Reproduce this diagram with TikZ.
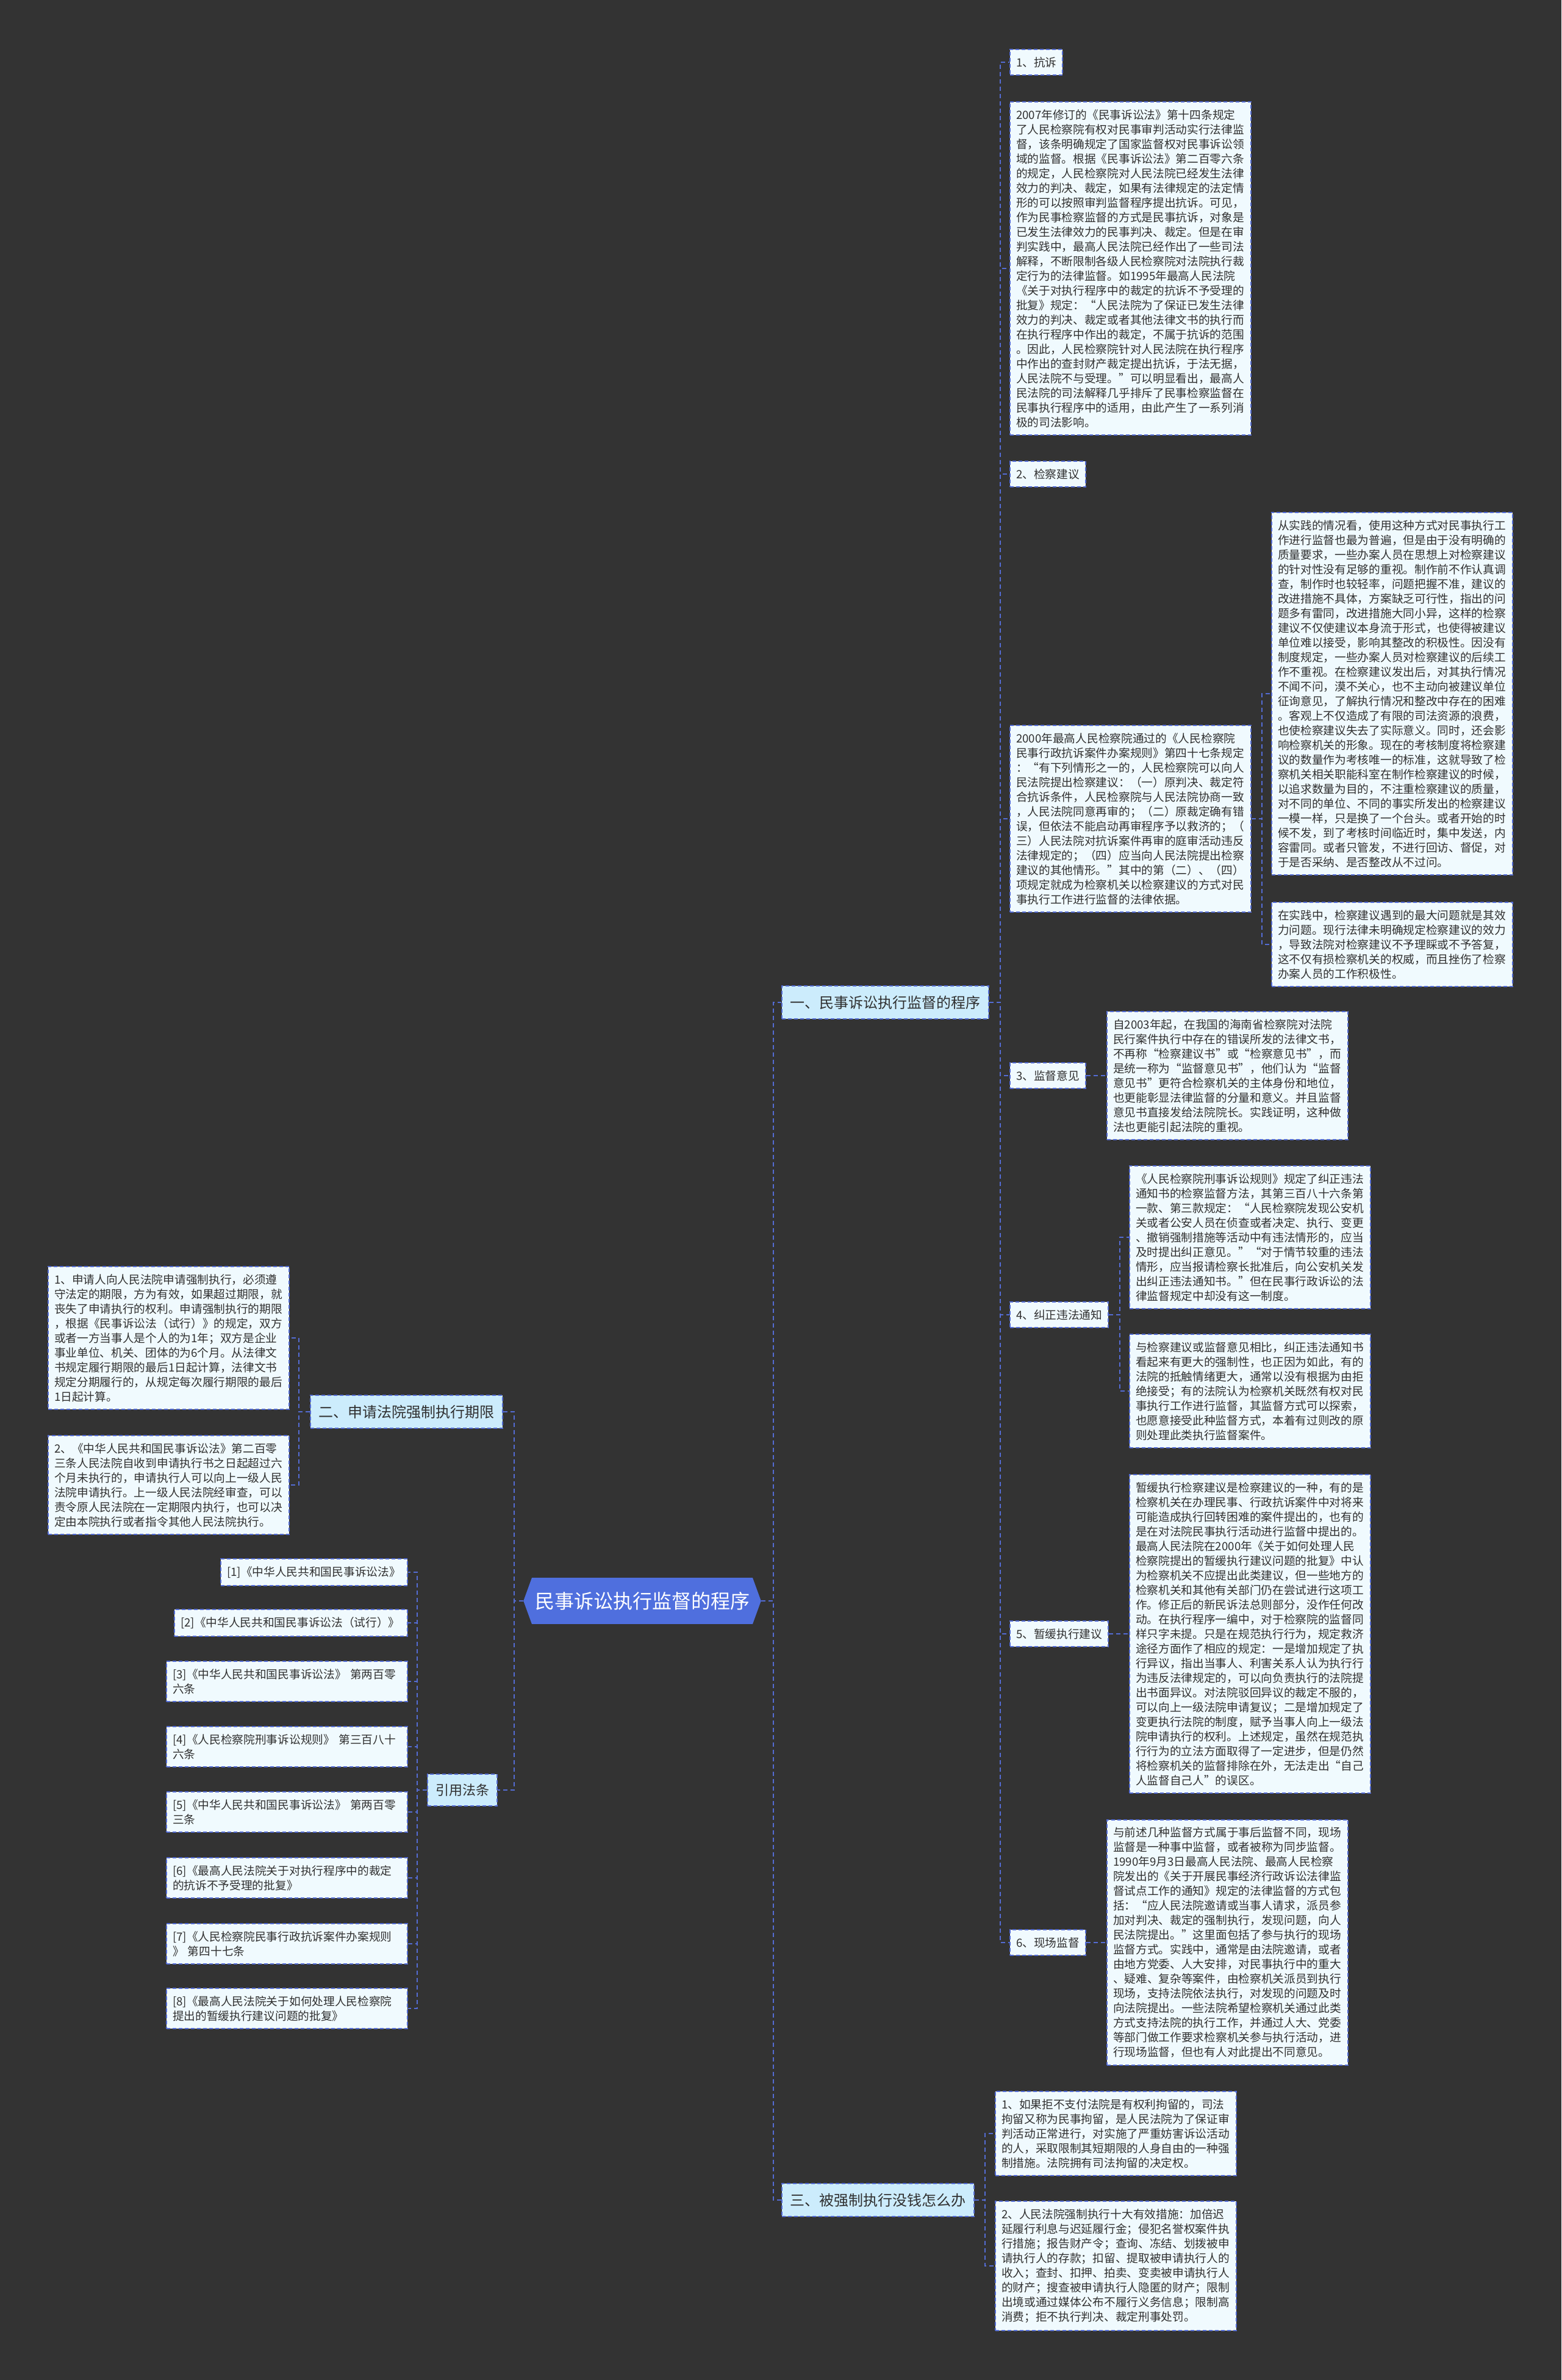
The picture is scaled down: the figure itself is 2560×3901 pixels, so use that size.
\documentclass[tikz,border=0pt]{standalone}
\usepackage{fontspec}
\setmainfont{Noto Sans CJK SC}
\usepackage{xcolor}
\usetikzlibrary{shapes.symbols}
\definecolor{bgdark}{RGB}{51,51,51}
\definecolor{rootblue}{RGB}{79,111,222}
\definecolor{linkblue}{RGB}{84,108,212}
\definecolor{topicfill}{RGB}{204,236,252}
\definecolor{leaffill}{RGB}{240,250,254}
\definecolor{inkgray}{RGB}{48,48,48}

\begin{document}
\begin{tikzpicture}[x=1pt, y=-1pt,
  link/.style={draw=linkblue, line width=2pt, dash pattern=on 7pt off 5pt},
  leaf/.style={draw=linkblue, line width=2pt, dash pattern=on 6pt off 4pt, fill=leaffill,
    text=inkgray, font=\fontsize{18.7}{24}\selectfont, inner xsep=10pt, inner ysep=12.5pt, align=left},
  block/.style={leaf, text width=375pt},
  topic/.style={leaf, fill=topicfill, font=\fontsize{24}{28}\selectfont, inner xsep=13.5pt, inner ysep=16pt},
  rootnode/.style={signal, signal from=nowhere, signal to=east and west, signal pointer angle=140,
    fill=rootblue, text=white, font=\fontsize{32}{36}\selectfont, inner xsep=5pt, inner ysep=23pt}]
  % Background
  \fill[bgdark] (0,0) rectangle (2560,3901);
  \useasboundingbox (0,0) rectangle (2560,3901);
  % Central topic
  \node[rootnode] (root) at (1053,2624) {民事诉讼执行监督的程序};
  % Main branches
  \node[topic, anchor=west] (proc) at (1281,1643) {一、民事诉讼执行监督的程序};
  \node[topic, anchor=west] (nomoney) at (1281,3606) {三、被强制执行没钱怎么办};
  \node[topic, anchor=east] (limit) at (825,2314) {二、申请法院强制执行期限};
  \node[topic, anchor=east, font=\fontsize{22}{26}\selectfont, inner xsep=13pt] (refs) at (816,2934) {引用法条};
  % Branch one
  \node[leaf, anchor=west] (protest) at (1655,102) {1、抗诉};
  \node[block, anchor=west] (protestText) at (1655,440) {2007年修订的《民事诉讼法》第十四条规定\\
    了人民检察院有权对民事审判活动实行法律监\\
    督，该条明确规定了国家监督权对民事诉讼领\\
    域的监督。根据《民事诉讼法》第二百零六条\\
    的规定，人民检察院对人民法院已经发生法律\\
    效力的判决、裁定，如果有法律规定的法定情\\
    形的可以按照审判监督程序提出抗诉。可见，\\
    作为民事检察监督的方式是民事抗诉，对象是\\
    已发生法律效力的民事判决、裁定。但是在审\\
    判实践中，最高人民法院已经作出了一些司法\\
    解释，不断限制各级人民检察院对法院执行裁\\
    定行为的法律监督。如1995年最高人民法院\\
    《关于对执行程序中的裁定的抗诉不予受理的\\
    批复》规定：“人民法院为了保证已发生法律\\
    效力的判决、裁定或者其他法律文书的执行而\\
    在执行程序中作出的裁定，不属于抗诉的范围\\
    。因此，人民检察院针对人民法院在执行程序\\
    中作出的查封财产裁定提出抗诉，于法无据，\\
    人民法院不与受理。”可以明显看出，最高人\\
    民法院的司法解释几乎排斥了民事检察监督在\\
    民事执行程序中的适用，由此产生了一系列消\\
    极的司法影响。};
  \node[leaf, anchor=west] (advice) at (1655,777) {2、检察建议};
  \node[block, anchor=west] (adviceText) at (1655,1342) {2000年最高人民检察院通过的《人民检察院\\
    民事行政抗诉案件办案规则》第四十七条规定\\
    ：“有下列情形之一的，人民检察院可以向人\\
    民法院提出检察建议：（一）原判决、裁定符\\
    合抗诉条件，人民检察院与人民法院协商一致\\
    ，人民法院同意再审的；（二）原裁定确有错\\
    误，但依法不能启动再审程序予以救济的；（\\
    三）人民法院对抗诉案件再审的庭审活动违反\\
    法律规定的；（四）应当向人民法院提出检察\\
    建议的其他情形。”其中的第（二）、（四）\\
    项规定就成为检察机关以检察建议的方式对民\\
    事执行工作进行监督的法律依据。};
  \node[block, anchor=west] (adviceA) at (2084,1137) {从实践的情况看，使用这种方式对民事执行工\\
    作进行监督也最为普遍，但是由于没有明确的\\
    质量要求，一些办案人员在思想上对检察建议\\
    的针对性没有足够的重视。制作前不作认真调\\
    查，制作时也较轻率，问题把握不准，建议的\\
    改进措施不具体，方案缺乏可行性，指出的问\\
    题多有雷同，改进措施大同小异，这样的检察\\
    建议不仅使建议本身流于形式，也使得被建议\\
    单位难以接受，影响其整改的积极性。因没有\\
    制度规定，一些办案人员对检察建议的后续工\\
    作不重视。在检察建议发出后，对其执行情况\\
    不闻不问，漠不关心，也不主动向被建议单位\\
    征询意见，了解执行情况和整改中存在的困难\\
    。客观上不仅造成了有限的司法资源的浪费，\\
    也使检察建议失去了实际意义。同时，还会影\\
    响检察机关的形象。现在的考核制度将检察建\\
    议的数量作为考核唯一的标准，这就导致了检\\
    察机关相关职能科室在制作检察建议的时候，\\
    以追求数量为目的，不注重检察建议的质量，\\
    对不同的单位、不同的事实所发出的检察建议\\
    一模一样，只是换了一个台头。或者开始的时\\
    候不发，到了考核时间临近时，集中发送，内\\
    容雷同。或者只管发，不进行回访、督促，对\\
    于是否采纳、是否整改从不过问。};
  \node[block, anchor=west] (adviceB) at (2084,1548) {在实践中，检察建议遇到的最大问题就是其效\\
    力问题。现行法律未明确规定检察建议的效力\\
    ，导致法院对检察建议不予理睬或不予答复，\\
    这不仅有损检察机关的权威，而且挫伤了检察\\
    办案人员的工作积极性。};
  \node[leaf, anchor=west] (opinion) at (1655,1763) {3、监督意见};
  \node[block, anchor=west] (opinionText) at (1814,1763) {自2003年起，在我国的海南省检察院对法院\\
    民行案件执行中存在的错误所发的法律文书，\\
    不再称“检察建议书”或“检察意见书”，而\\
    是统一称为“监督意见书”，他们认为“监督\\
    意见书”更符合检察机关的主体身份和地位，\\
    也更能彰显法律监督的分量和意义。并且监督\\
    意见书直接发给法院院长。实践证明，这种做\\
    法也更能引起法院的重视。};
  \node[leaf, anchor=west] (notice) at (1655,2155) {4、纠正违法通知};
  \node[block, anchor=west] (noticeA) at (1851,2028) {《人民检察院刑事诉讼规则》规定了纠正违法\\
    通知书的检察监督方法，其第三百八十六条第\\
    一款、第三款规定：“人民检察院发现公安机\\
    关或者公安人员在侦查或者决定、执行、变更\\
    、撤销强制措施等活动中有违法情形的，应当\\
    及时提出纠正意见。”“对于情节较重的违法\\
    情形，应当报请检察长批准后，向公安机关发\\
    出纠正违法通知书。”但在民事行政诉讼的法\\
    律监督规定中却没有这一制度。};
  \node[block, anchor=west] (noticeB) at (1851,2280) {与检察建议或监督意见相比，纠正违法通知书\\
    看起来有更大的强制性，也正因为如此，有的\\
    法院的抵触情绪更大，通常以没有根据为由拒\\
    绝接受；有的法院认为检察机关既然有权对民\\
    事执行工作进行监督，其监督方式可以探索，\\
    也愿意接受此种监督方式，本着有过则改的原\\
    则处理此类执行监督案件。};
  \node[leaf, anchor=west] (stay) at (1655,2678) {5、暂缓执行建议};
  \node[block, anchor=west] (stayText) at (1851,2678) {暂缓执行检察建议是检察建议的一种，有的是\\
    检察机关在办理民事、行政抗诉案件中对将来\\
    可能造成执行回转困难的案件提出的，也有的\\
    是在对法院民事执行活动进行监督中提出的。\\
    最高人民法院在2000年《关于如何处理人民\\
    检察院提出的暂缓执行建议问题的批复》中认\\
    为检察机关不应提出此类建议，但一些地方的\\
    检察机关和其他有关部门仍在尝试进行这项工\\
    作。修正后的新民诉法总则部分，没作任何改\\
    动。在执行程序一编中，对于检察院的监督同\\
    样只字未提。只是在规范执行行为，规定救济\\
    途径方面作了相应的规定：一是增加规定了执\\
    行异议，指出当事人、利害关系人认为执行行\\
    为违反法律规定的，可以向负责执行的法院提\\
    出书面异议。对法院驳回异议的裁定不服的，\\
    可以向上一级法院申请复议；二是增加规定了\\
    变更执行法院的制度，赋予当事人向上一级法\\
    院申请执行的权利。上述规定，虽然在规范执\\
    行行为的立法方面取得了一定进步，但是仍然\\
    将检察机关的监督排除在外，无法走出“自己\\
    人监督自己人”的误区。};
  \node[leaf, anchor=west] (onsite) at (1655,3184) {6、现场监督};
  \node[block, anchor=west] (onsiteText) at (1814,3184) {与前述几种监督方式属于事后监督不同，现场\\
    监督是一种事中监督，或者被称为同步监督。\\
    1990年9月3日最高人民法院、最高人民检察\\
    院发出的《关于开展民事经济行政诉讼法律监\\
    督试点工作的通知》规定的法律监督的方式包\\
    括：“应人民法院邀请或当事人请求，派员参\\
    加对判决、裁定的强制执行，发现问题，向人\\
    民法院提出。”这里面包括了参与执行的现场\\
    监督方式。实践中，通常是由法院邀请，或者\\
    由地方党委、人大安排，对民事执行中的重大\\
    、疑难、复杂等案件，由检察机关派员到执行\\
    现场，支持法院依法执行，对发现的问题及时\\
    向法院提出。一些法院希望检察机关通过此类\\
    方式支持法院的执行工作，并通过人大、党委\\
    等部门做工作要求检察机关参与执行活动，进\\
    行现场监督，但也有人对此提出不同意见。};
  % Branch three
  \node[block, anchor=west] (moneyA) at (1631,3497) {1、如果拒不支付法院是有权利拘留的，司法\\
    拘留又称为民事拘留，是人民法院为了保证审\\
    判活动正常进行，对实施了严重妨害诉讼活动\\
    的人，采取限制其短期限的人身自由的一种强\\
    制措施。法院拥有司法拘留的决定权。};
  \node[block, anchor=west] (moneyB) at (1631,3714) {2、人民法院强制执行十大有效措施：加倍迟\\
    延履行利息与迟延履行金；侵犯名誉权案件执\\
    行措施；报告财产令；查询、冻结、划拨被申\\
    请执行人的存款；扣留、提取被申请执行人的\\
    收入；查封、扣押、拍卖、变卖被申请执行人\\
    的财产；搜查被申请执行人隐匿的财产；限制\\
    出境或通过媒体公布不履行义务信息；限制高\\
    消费；拒不执行判决、裁定刑事处罚。};
  % Branch two
  \node[block, anchor=east] (limitA) at (475,2193) {1、申请人向人民法院申请强制执行，必须遵\\
    守法定的期限，方为有效，如果超过期限，就\\
    丧失了申请执行的权利。申请强制执行的期限\\
    ，根据《民事诉讼法（试行）》的规定，双方\\
    或者一方当事人是个人的为1年；双方是企业\\
    事业单位、机关、团体的为6个月。从法律文\\
    书规定履行期限的最后1日起计算，法律文书\\
    规定分期履行的，从规定每次履行期限的最后\\
    1日起计算。};
  \node[block, anchor=east] (limitB) at (475,2434) {2、《中华人民共和国民事诉讼法》第二百零\\
    三条人民法院自收到申请执行书之日起超过六\\
    个月未执行的，申请执行人可以向上一级人民\\
    法院申请执行。上一级人民法院经审查，可以\\
    责令原人民法院在一定期限内执行，也可以决\\
    定由本院执行或者指令其他人民法院执行。};
  % Citations
  \node[leaf, anchor=east, text width=286pt] (cite1) at (669,2577) {[1]《中华人民共和国民事诉讼法》};
  \node[leaf, anchor=east, text width=362pt] (cite2) at (669,2660) {[2]《中华人民共和国民事诉讼法（试行）》};
  \node[block, anchor=east] (cite3) at (669,2756) {[3]《中华人民共和国民事诉讼法》 第两百零\\六条};
  \node[block, anchor=east] (cite4) at (669,2863) {[4]《人民检察院刑事诉讼规则》 第三百八十\\六条};
  \node[block, anchor=east] (cite5) at (669,2970) {[5]《中华人民共和国民事诉讼法》 第两百零\\三条};
  \node[block, anchor=east] (cite6) at (669,3078) {[6]《最高人民法院关于对执行程序中的裁定\\的抗诉不予受理的批复》};
  \node[block, anchor=east] (cite7) at (669,3186) {[7]《人民检察院民事行政抗诉案件办案规则\\》 第四十七条};
  \node[block, anchor=east] (cite8) at (669,3292) {[8]《最高人民法院关于如何处理人民检察院\\提出的暂缓执行建议问题的批复》};
  % Connectors from the centre
  \draw[link] (root.east) -- ++(20,0) |- (proc.west);
  \draw[link] (root.east) -- ++(20,0) |- (nomoney.west);
  \draw[link] (root.west) -- ++(-15,0) |- (limit.east);
  \draw[link] (root.west) -- ++(-15,0) |- (refs.east);
  % Connectors of branch one
  \draw[link] (proc.east) -- ++(18,0) |- (protest.west);
  \draw[link] (proc.east) -- ++(18,0) |- (protestText.west);
  \draw[link] (proc.east) -- ++(18,0) |- (advice.west);
  \draw[link] (proc.east) -- ++(18,0) |- (adviceText.west);
  \draw[link] (proc.east) -- ++(18,0) |- (opinion.west);
  \draw[link] (proc.east) -- ++(18,0) |- (notice.west);
  \draw[link] (proc.east) -- ++(18,0) |- (stay.west);
  \draw[link] (proc.east) -- ++(18,0) |- (onsite.west);
  \draw[link] (adviceText.east) -- ++(17,0) |- (adviceA.west);
  \draw[link] (adviceText.east) -- ++(17,0) |- (adviceB.west);
  \draw[link] (opinion.east) -- (opinionText.west);
  \draw[link] (notice.east) -- ++(18,0) |- (noticeA.west);
  \draw[link] (notice.east) -- ++(18,0) |- (noticeB.west);
  \draw[link] (stay.east) -- (stayText.west);
  \draw[link] (onsite.east) -- (onsiteText.west);
  % Connectors of branches two and three
  \draw[link] (nomoney.east) -- ++(17,0) |- (moneyA.west);
  \draw[link] (nomoney.east) -- ++(17,0) |- (moneyB.west);
  \draw[link] (limit.west) -- ++(-18,0) |- (limitA.east);
  \draw[link] (limit.west) -- ++(-18,0) |- (limitB.east);
  % Connectors of the citations
  \draw[link] (refs.west) -- ++(-16,0) |- (cite1.east);
  \draw[link] (refs.west) -- ++(-16,0) |- (cite2.east);
  \draw[link] (refs.west) -- ++(-16,0) |- (cite3.east);
  \draw[link] (refs.west) -- ++(-16,0) |- (cite4.east);
  \draw[link] (refs.west) -- ++(-16,0) |- (cite5.east);
  \draw[link] (refs.west) -- ++(-16,0) |- (cite6.east);
  \draw[link] (refs.west) -- ++(-16,0) |- (cite7.east);
  \draw[link] (refs.west) -- ++(-16,0) |- (cite8.east);
\end{tikzpicture}
\end{document}
